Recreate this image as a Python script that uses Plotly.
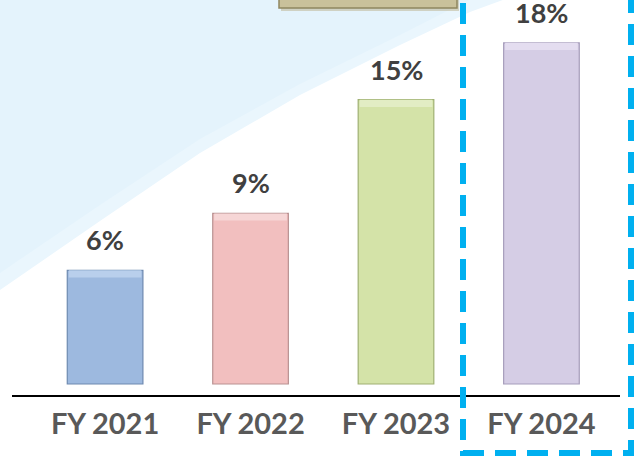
import plotly.graph_objects as go

categories = ["FY 2021", "FY 2022", "FY 2023", "FY 2024"]
values = [6, 9, 15, 18]
value_labels = ["6%", "9%", "15%", "18%"]
bar_colors = ["#9DB9DF", "#F2BFBF", "#D4E3A8", "#D5CDE5"]
bar_edges = ["#6E8AB0", "#B99292", "#9FB072", "#A69DBB"]
bevel_colors = ["#B9CFEC", "#F6D6D6", "#E2EDC4", "#E4DDF0"]

W, H = 635, 462
L, R, T, B = 12, 15, 0, 67
PW, PH = W - L - R, H - T - B


def px(x):
    return (x - L) / PW


def py(y):
    return (H - B - y) / PH


fig = go.Figure()

fig.add_trace(go.Bar(
    x=categories, y=values,
    marker=dict(color=bar_colors, line=dict(color=bar_edges, width=1.2)),
    width=0.52, hoverinfo="skip", showlegend=False,
))
bevel_h = 0.38
fig.add_trace(go.Bar(
    x=categories, y=[bevel_h] * len(values),
    base=[v - bevel_h for v in values],
    marker=dict(color=bevel_colors, line=dict(width=0)),
    width=0.50, hoverinfo="skip", showlegend=False,
))

for c, v, t in zip(categories, values, value_labels):
    fig.add_annotation(
        x=c, y=v, text=t, showarrow=False, yanchor="bottom", yshift=13,
        borderpad=0,
        font=dict(family="Lato", size=27, color="#404040", weight="bold"),
    )

# background curved light-blue region
pts = [(-10, -10), (-10, 292), (0, 290), (100, 221), (200, 153), (300, 95),
       (400, 45), (470, 12), (530, -10)]
path = "M " + " L ".join(f"{px(a):.4f},{py(b):.4f}" for a, b in pts) + " Z"
fig.add_shape(type="path", path=path, xref="paper", yref="paper",
              fillcolor="#EAF6FD", line=dict(width=0), layer="below")
pts2 = [(-10, -10), (-10, 275), (0, 273), (100, 205), (200, 139), (300, 84),
        (400, 35), (455, 7), (490, -10)]
path2 = "M " + " L ".join(f"{px(a):.4f},{py(b):.4f}" for a, b in pts2) + " Z"
fig.add_shape(type="path", path=path2, xref="paper", yref="paper",
              fillcolor="#E4F3FC", line=dict(width=0), layer="below")

# tan box at top (partially visible)
fig.add_shape(type="rect", xref="paper", yref="paper",
              x0=px(281), x1=px(459), y0=py(11), y1=py(-40),
              fillcolor="#B9B08A", line=dict(width=0), layer="above", opacity=0.5)
fig.add_shape(type="rect", xref="paper", yref="paper",
              x0=px(279), x1=px(457), y0=py(8), y1=py(-40),
              fillcolor="#C9C19B", line=dict(color="#8E8660", width=1.5), layer="above")

# dashed highlight box
fig.add_shape(type="rect", xref="paper", yref="paper",
              x0=px(463), x1=px(631), y0=py(453), y1=py(-20),
              line=dict(color="#00B0F0", width=6, dash="21px,11px"),
              fillcolor="rgba(0,0,0,0)", layer="above")

fig.update_layout(
    width=W, height=H,
    margin=dict(l=L, r=R, t=T, b=B),
    paper_bgcolor="white", plot_bgcolor="rgba(0,0,0,0)",
    barmode="overlay", showlegend=False,
    xaxis=dict(
        type="category", range=[-0.64, 3.54],
        showline=True, linecolor="black", linewidth=2,
        showgrid=False, zeroline=False,
        ticks="outside", ticklen=2, tickcolor="rgba(0,0,0,0)",
        tickfont=dict(family="Lato", size=29, color="#595959", weight="bold"),
    ),
    yaxis=dict(range=[-0.58, 20.26], visible=False, showgrid=False, zeroline=False),
)

fig.write_html("out.html", config={"displayModeBar": False},
               post_script="document.body.style.margin='0px';document.body.style.overflow='hidden';")
